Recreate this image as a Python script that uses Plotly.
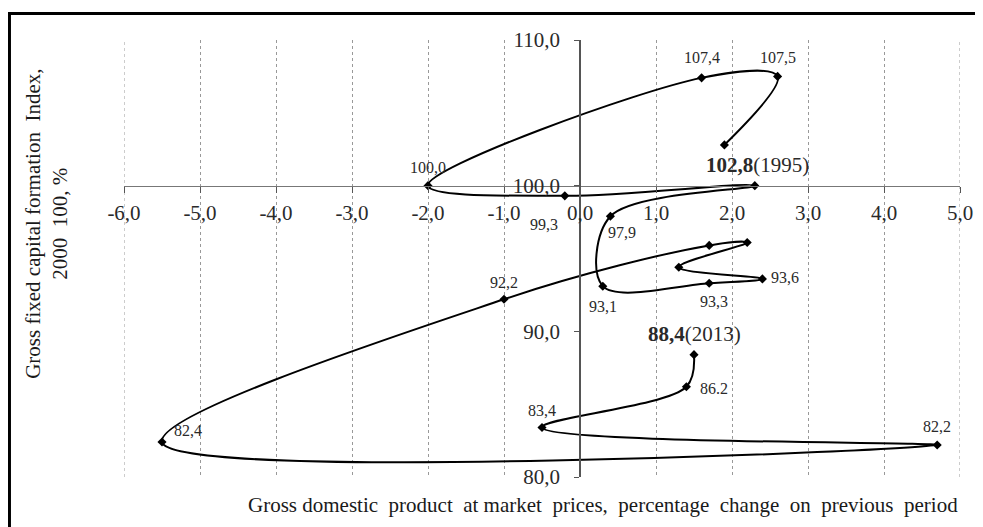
import plotly.graph_objects as go

years = list(range(1995, 2014))
gdp_change = [1.9, 2.6, 1.6, -2.0, -0.2, 2.3, 0.4, 0.3, 1.7, 2.4, 1.3, 2.2, 1.7, -1.0, -5.5, 4.7, -0.5, 1.4, 1.5]
gfcf_index = [102.8, 107.5, 107.4, 100.0, 99.3, 100.0, 97.9, 93.1, 93.3, 93.6, 94.4, 96.1, 95.9, 92.2, 82.4, 82.2, 83.4, 86.2, 88.4]
point_labels = ["<b>102,8</b>(1995)", "107,5", "107,4", "100,0", "99,3", "", "97,9", "93,1", "93,3", "93,6",
                "", "", "", "92,2", "82,4", "82,2", "83,4", "86.2", "<b>88,4</b>(2013)"]
label_offsets = [(33, 20), (0, -19), (0, -20), (0, -18), (-21, 29), (0, 0), (12, 16), (0, 20), (5, 18), (23, -1),
                 (0, 0), (0, 0), (0, 0), (0, -17), (26, -12), (0, -18), (0, -17), (28, 2), (0, -21)]

x_ticks = [-6, -5, -4, -3, -2, -1, 0, 1, 2, 3, 4, 5]
x_tick_text = ["-6,0", "-5,0", "-4,0", "-3,0", "-2,0", "-1,0", "0,0", "1,0", "2,0", "3,0", "4,0", "5,0"]
y_ticks = [80, 90, 100, 110]
y_tick_text = ["80,0", "90,0", "100,0", "110,0"]

NB = "\u00a0"
x_title = ("Gross domestic" + NB + " product" + NB + " at market" + NB + " prices," + NB + " percentage"
           + NB + " change" + NB + " on" + NB + " previous" + NB + " period")
y_title = "Gross fixed capital formation" + NB + " Index,<br>2000" + NB + " 100, %"

FONT = "Liberation Serif"
x_range = [-6, 5]
y_range = [80, 110]

fig = go.Figure()
fig.add_trace(go.Scatter(
    x=gdp_change, y=gfcf_index, mode="lines+markers",
    line=dict(color="black", width=2, shape="spline", smoothing=1.0),
    marker=dict(symbol="diamond", size=7, color="black"),
    text=[str(y) for y in years], hoverinfo="x+y+text", showlegend=False,
))

annotations = []
for x, y, lab, (dx, dy) in zip(gdp_change, gfcf_index, point_labels, label_offsets):
    if not lab:
        continue
    big = "<b>" in lab
    annotations.append(dict(
        x=x, y=y, xref="x", yref="y", text=lab, showarrow=False,
        xshift=dx, yshift=-dy, xanchor="center", yanchor="middle",
        font=dict(family=FONT, size=21 if big else 16, color="#2a2a2a"),
    ))

annotations.append(dict(
    x=1.0, y=-0.064, xref="paper", yref="paper", text=x_title, showarrow=False,
    xanchor="right", yanchor="middle", font=dict(family=FONT, size=21, color="#1a1a1a"),
))
annotations.append(dict(
    x=-0.093, y=0.58, xref="paper", yref="paper", text=y_title, showarrow=False,
    textangle=-90, xanchor="center", yanchor="middle",
    font=dict(family=FONT, size=21, color="#1a1a1a"),
))

x_axis_pos = (100 - y_range[0]) / (y_range[1] - y_range[0])
y_axis_pos = (0 - x_range[0]) / (x_range[1] - x_range[0])

grid_style = dict(color="#999999", width=1, dash="dot")
shapes = [dict(type="line", xref="x", yref="paper", x0=xv, x1=xv, y0=0, y1=1, line=grid_style, layer="below")
          for xv in (x_ticks[0], x_ticks[-1])]
shapes.append(dict(type="rect", xref="paper", yref="paper",
                   x0=-0.137, x1=1.2, y0=-0.3, y1=1.0606,
                   line=dict(color="black", width=3), fillcolor="rgba(0,0,0,0)"))

fig.update_layout(
    width=983, height=527,
    margin=dict(l=116, r=31, t=32, b=58),
    paper_bgcolor="white", plot_bgcolor="white",
    separators=", ",
    annotations=annotations,
    shapes=shapes,
    xaxis=dict(
        range=x_range, tickvals=x_ticks, ticktext=x_tick_text,
        anchor="free", position=x_axis_pos,
        showline=True, linecolor="#777", linewidth=1,
        ticks="outside", ticklen=6, tickcolor="#555",
        ticklabelstandoff=2,
        tickfont=dict(family=FONT, size=21, color="#2a2a2a"),
        showgrid=True, gridcolor="#999999", griddash="dot", gridwidth=1,
        zeroline=False,
    ),
    yaxis=dict(
        range=y_range, tickvals=y_ticks, ticktext=y_tick_text,
        anchor="free", position=y_axis_pos,
        showline=True, linecolor="#555", linewidth=1.5,
        ticks="outside", ticklen=5, tickcolor="#555",
        ticklabelstandoff=10,
        tickfont=dict(family=FONT, size=21, color="#2a2a2a"),
        showgrid=False, zeroline=False,
    ),
)

fig.write_html("out.html")
